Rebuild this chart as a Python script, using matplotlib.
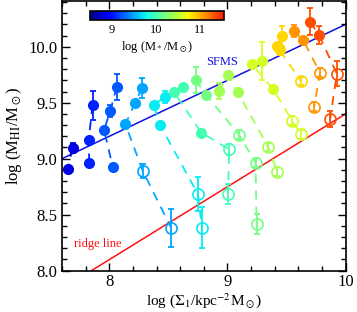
import numpy as np
import matplotlib
matplotlib.use('Agg')
import matplotlib.pyplot as plt
from matplotlib.ticker import MultipleLocator, FormatStrFormatter
from matplotlib.colors import Normalize, ListedColormap

plt.rcParams['font.family'] = ['Liberation Serif', 'DejaVu Serif']
plt.rcParams['mathtext.fontset'] = 'stix'

# stellar mass of each bin, log(M*/Msun)
mass = [8.8, 9.05, 9.25, 9.5, 9.75, 10.0, 10.2, 10.4, 10.6, 10.85, 11.1, 11.35]

# log Sigma_1 of the points in each bin
sig1 = [
    [7.688, 7.646],
    [7.858, 7.824, 7.830],
    [8.062, 8.008, 7.955, 8.028],
    [8.278, 8.218, 8.136, 8.283, 8.524],
    [8.473, 8.374, 8.431, 8.750, 8.784],
    [8.623, 8.546, 8.779, 9.014, 9.005],
    [8.731, 8.822, 9.099, 9.238, 9.246],
    [8.926, 9.005, 9.085, 9.345, 9.421],
    [9.289, 9.209, 9.387, 9.549, 9.623],
    [9.459, 9.421, 9.444, 9.620],
    [9.563, 9.642, 9.784, 9.733],
    [9.699, 9.776, 9.926, 9.869],
]

# log M_HI of the points
mhi = [
    [9.096, 8.905],
    [9.479, 9.164, 8.964],
    [9.643, 9.426, 9.256, 8.929],
    [9.634, 9.500, 9.307, 8.890, 8.379],
    [9.554, 9.479, 9.298, 8.682, 8.384],
    [9.640, 9.598, 9.232, 9.084, 8.682],
    [9.703, 9.566, 9.212, 8.964, 8.414],
    [9.604, 9.747, 9.598, 9.104, 8.881],
    [9.872, 9.843, 9.620, 9.337, 9.218],
    [10.096, 10.006, 9.968, 9.694],
    [10.140, 10.057, 9.768, 9.462],
    [10.223, 10.104, 9.759, 9.352],
]

# error on log M_HI
mhi_err = [
    [0.045, 0.02],
    [0.13, 0.02, 0.02],
    [0.116, 0.05, 0.02, 0.02],
    [0.09, 0.02, 0.02, 0.06, 0.17],
    [0.055, 0.02, 0.02, 0.15, 0.18],
    [0.02, 0.02, 0.02, 0.05, 0.09],
    [0.12, 0.02, 0.04, 0.04, 0.09],
    [0.07, 0.02, 0.02, 0.04, 0.04],
    [0.17, 0.02, 0.02, 0.04, 0.04],
    [0.09, 0.02, 0.02, 0.04],
    [0.055, 0.02, 0.04, 0.04],
    [0.12, 0.08, 0.11, 0.07],
]

# filled = star forming, open = below the main sequence
filled = [
    [1, 1],
    [1, 1, 1],
    [1, 1, 1, 1],
    [1, 1, 1, 0, 0],
    [1, 1, 1, 0, 0],
    [1, 1, 1, 0, 0],
    [1, 1, 0, 0, 0],
    [1, 1, 1, 0, 0],
    [1, 1, 1, 0, 0],
    [1, 1, 1, 0],
    [1, 1, 0, 0],
    [1, 1, 0, 0],
]

# reference relations
sfms_x = [7.6, 10.0]
sfms_y = [9.0, 10.2]
ridge_x = [7.85, 10.0]
ridge_y = [8.0, 9.4]

cmap = ListedColormap(plt.get_cmap('jet')(np.linspace(0.0, 0.88, 256)))
norm = Normalize(vmin=8.5, vmax=11.55)

fig = plt.figure(figsize=(3.57, 3.12), dpi=100)
ax = fig.add_axes([0.174, 0.133, 0.794, 0.864])

ax.plot(sfms_x, sfms_y, color='#1010e0', lw=1.1, zorder=1)
ax.plot(ridge_x, ridge_y, color='#ff1010', lw=1.1, zorder=1)

for m, xs, ys, es, fs in zip(mass, sig1, mhi, mhi_err, filled):
    c = cmap(norm(m))
    ax.plot(xs, ys, color=c, lw=1.3, ls=(0, (5, 4)), zorder=2)
    for x, y, e, f in zip(xs, ys, es, fs):
        ax.errorbar(x, y, yerr=e, color=c, elinewidth=1.3, capsize=2.5,
                    capthick=1.3, zorder=3)
        if f:
            ax.plot(x, y, 'o', color=c, ms=7, mec=c, zorder=4)
        else:
            ax.plot(x, y, 'o', mfc='none', mec=c, mew=1.2, ms=8, zorder=4)

ax.text(8.82, 9.84, 'SFMS', color='#1010e0', fontsize=9)
ax.text(7.70, 8.21, 'ridge line', color='#ff1010', fontsize=9)

ax.set_xlim(7.6, 10.0)
ax.set_ylim(8.0, 10.41)
ax.xaxis.set_major_locator(MultipleLocator(1))
ax.xaxis.set_minor_locator(MultipleLocator(0.2))
ax.yaxis.set_major_locator(MultipleLocator(0.5))
ax.yaxis.set_minor_locator(MultipleLocator(0.1))
ax.yaxis.set_major_formatter(FormatStrFormatter('%.1f'))
ax.tick_params(which='both', direction='in', top=True, right=True,
               labelsize=12, width=1.0)
ax.tick_params(which='major', length=6)
ax.tick_params(which='minor', length=3.5)
ax.tick_params(axis='x', pad=2.5)
for s in ax.spines.values():
    s.set_linewidth(1.2)

ax.set_xlabel(r'log ($\Sigma_1$/kpc$^{-2}$M$_\odot$)', fontsize=11)
ax.xaxis.set_label_coords(0.5, -0.078)
ax.set_ylabel(r'log (M$_{\rm HI}$/M$_\odot$)', fontsize=12, labelpad=3)

cax = fig.add_axes([0.252, 0.936, 0.375, 0.029])
sm = plt.cm.ScalarMappable(norm=norm, cmap=cmap)
cb = fig.colorbar(sm, cax=cax, orientation='horizontal')
cb.set_ticks([9, 10, 11])
cb.ax.tick_params(length=0, labelsize=9, pad=3)
cb.outline.set_linewidth(1.2)
cb.set_label(r'log (M$_*$/M$_\odot$)', fontsize=9, labelpad=2)

fig.savefig('out.png', dpi=100)
